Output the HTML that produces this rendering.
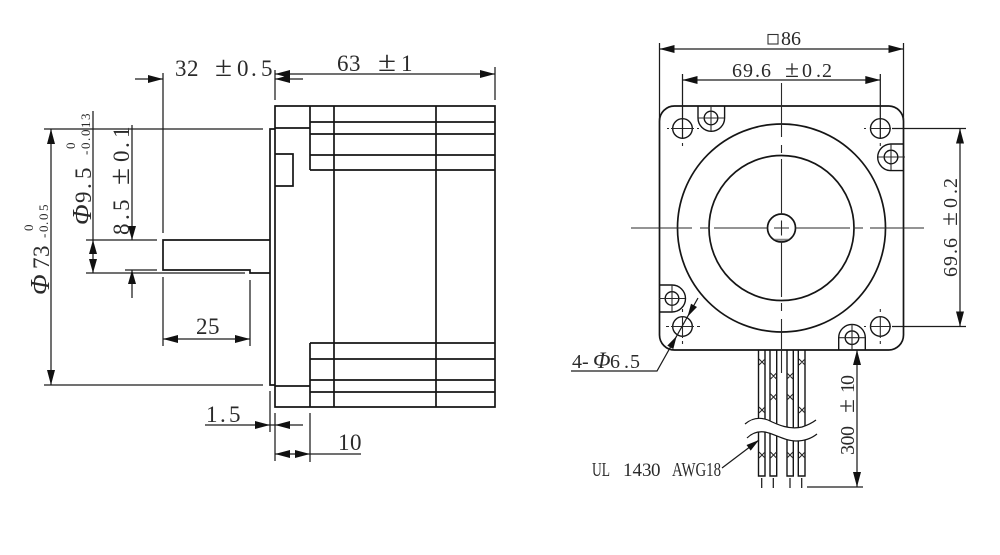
<!DOCTYPE html>
<html>
<head>
<meta charset="utf-8">
<style>
html,body{margin:0;padding:0;background:#fff;}
svg{display:block;}
text{font-family:"Liberation Serif","Noto Serif CJK SC",serif;fill:#2a2a2a;}
.b{stroke:#151515;stroke-width:1.7;fill:none;}
.d{stroke:#1c1c1c;stroke-width:1.25;fill:none;}
.c{stroke:#2a2a2a;stroke-width:1.1;fill:none;}
.i{font-style:italic;}
</style>
</head>
<body>
<svg width="1000" height="555" viewBox="0 0 1000 555" xmlns="http://www.w3.org/2000/svg">
<defs>
<path id="a" d="M0 0L-15 -4L-15 4Z" fill="#111"/>
<path id="s" d="M0 0L-14 -4L-14 4Z" fill="#111"/>
</defs>
<rect width="1000" height="555" fill="#fff"/>

<!-- LEFT VIEW: body -->
<path class="b" d="M275 106H495V407H275Z"/>
<path class="b" d="M310 106V170M334 106V343M436 106V343M310 122H495M310 134H495M310 155H495M310 170H495"/>
<path class="b" d="M310 407V343M334 343V407M436 343V407M310 343H495M310 359H495M310 380H495M310 392H495"/>
<path class="b" d="M275 128H310M275 386H310"/>
<path class="b" d="M275 129H270V385H275"/>
<path class="b" d="M275 154H293V186H275"/>
<path class="b" d="M270 240H163V270H250V273H270"/>

<!-- LEFT VIEW: dimensions -->
<path class="d" d="M163 73V233M163 277V346M275 70V100M495 67V100"/>
<path class="d" d="M135 79H163M275 74H495M275 79H303"/>
<use href="#a" transform="translate(163 79)"/>
<use href="#a" transform="translate(275 74) rotate(180)"/>
<use href="#a" transform="translate(275 79) rotate(180)"/>
<use href="#a" transform="translate(495 74)"/>

<path class="d" d="M44 129H263M44 385H263M51 129V385"/>
<use href="#a" transform="translate(51 129) rotate(-90)"/>
<use href="#a" transform="translate(51 385) rotate(90)"/>

<path class="d" d="M93 111V273M86 240H157M86 273H245M125 270H157M132 125V240M132 270V298"/>
<use href="#s" transform="translate(93 240) rotate(-90)"/>
<use href="#s" transform="translate(93 273) rotate(90)"/>
<use href="#s" transform="translate(132 240) rotate(90)"/>
<use href="#s" transform="translate(132 270) rotate(-90)"/>

<path class="d" d="M250 280V346M163 339H250"/>
<use href="#a" transform="translate(163 339) rotate(180)"/>
<use href="#a" transform="translate(250 339)"/>

<path class="d" d="M270 391V432M275 413V461M310 413V462M205 425H303M275 454H361"/>
<use href="#a" transform="translate(270 425)"/>
<use href="#a" transform="translate(275 425) rotate(180)"/>
<use href="#a" transform="translate(275 454) rotate(180)"/>
<use href="#a" transform="translate(310 454)"/>

<!-- LEFT VIEW: labels -->
<text x="175 187" y="76" font-size="23">32</text>
<text x="215" y="76" font-size="28" textLength="17" lengthAdjust="spacingAndGlyphs">±</text>
<text x="237 251 261" y="76" font-size="23">0.5</text>
<text x="337 349" y="71" font-size="23">63</text>
<text x="378" y="71" font-size="28" textLength="18" lengthAdjust="spacingAndGlyphs">±</text>
<text x="401" y="71" font-size="23">1</text>
<text x="196 208" y="334" font-size="23">25</text>
<text x="206 220 229" y="422" font-size="23">1.5</text>
<text x="338 350" y="450" font-size="23">10</text>

<text transform="translate(49 295) rotate(-90)" font-size="23" x="0 26 38"><tspan class="i" font-size="27">Φ</tspan>73</text>
<text transform="translate(33 231) rotate(-90)" font-size="13">0</text>
<text transform="translate(48 238) rotate(-90)" font-size="13" x="0 6 13 18 27">-0.05</text>
<text transform="translate(91 225) rotate(-90)" font-size="23" x="0 22 36 46"><tspan class="i" font-size="27">Φ</tspan>9.5</text>
<text transform="translate(75 149) rotate(-90)" font-size="13">0</text>
<text transform="translate(90 155) rotate(-90)" font-size="13" x="0 6 14 19 27 35">-0.013</text>
<text transform="translate(129 235) rotate(-90)" font-size="23" x="0 15 24">8.5</text>
<text transform="translate(129 185) rotate(-90)" font-size="28" textLength="17" lengthAdjust="spacingAndGlyphs">±</text>
<text transform="translate(129 162) rotate(-90)" font-size="23" x="0 14 24">0.1</text>

<!-- RIGHT VIEW: plate -->
<rect class="b" x="659.5" y="106" width="244" height="244" rx="15" ry="15"/>
<circle class="b" cx="781.5" cy="228" r="104"/>
<circle class="b" cx="781.5" cy="228" r="72.5"/>
<circle class="b" cx="781.5" cy="228" r="14"/>
<path d="M773 238.8Q781.5 243 790 238.8Z" fill="#888"/>
<path class="c" d="M774 228H789M781.5 220.5V235.5"/>

<!-- centre lines -->
<path class="c" d="M631 228H692M700 228H708M714 228H767.5M795.5 228H850M855 228H863M870 228H924"/>
<path class="c" d="M781.5 83V137M781.5 145V153M781.5 159V214M781.5 242V297M781.5 303V311M781.5 319V373"/>

<!-- mount holes -->
<g class="b" style="stroke-width:1.4">
<circle cx="682.5" cy="128.5" r="9.8" fill="#fff"/>
<circle cx="880.3" cy="128.5" r="9.8" fill="#fff"/>
<circle cx="682.5" cy="326.5" r="9.8" fill="#fff"/>
<circle cx="880.3" cy="326.5" r="9.8" fill="#fff"/>
</g>
<path class="c" d="M667 128.5H669M671 128.5H694M697 128.5H699M682.5 143V146"/>
<path class="c" d="M864 128.5H866M870 128.5H891M880.3 143V146"/>
<path class="c" d="M666 326.5H669M671 326.5H694M697 326.5H700M682.5 309V312M682.5 316V338M682.5 341V344"/>
<path class="c" d="M864 326.5H866M870 326.5H891M880.3 309V312M880.3 316V338M880.3 341V344"/>

<!-- screw pockets -->
<g class="b" style="stroke-width:1.4">
<path d="M698 106V118A13.3 13.3 0 0 0 724.6 118V106"/>
<path d="M904 144H891A13.3 13.3 0 0 0 891 170.6H904"/>
<path d="M838.7 350V337.7A13.3 13.3 0 0 1 865.3 337.7V350"/>
<path d="M659 285H672A13.5 13.5 0 0 1 672 312H659"/>
<circle cx="711" cy="118" r="6.8"/>
<circle cx="891" cy="157" r="6.8"/>
<circle cx="852" cy="337.7" r="6.8"/>
<circle cx="672" cy="298.5" r="6.8"/>
</g>
<path class="c" d="M698 118H724M711 106V131M878 157H905M891 144V170M839 337.7H865M852 324V350M659 298.5H685M672 285V312"/>

<!-- wires -->
<path class="b" style="stroke-width:1.4" d="M758.5 350V476H765V350M770 350V476H776.7V350M787 350V476H793.3V350M798.3 350V476H805V350"/>
<path class="d" d="M761.7 478V488M773.3 478V488M790 478V488M801.7 478V488"/>
<path class="c" d="M759 359L765 365M765 359L759 365M759 407L765 413M765 407L759 413M759 452L765 458M765 452L759 458
M770.5 373L776.5 379M776.5 373L770.5 379M770.5 394L776.5 400M776.5 394L770.5 400M770.5 452L776.5 458M776.5 452L770.5 458
M787 373L793 379M793 373L787 379M787 394L793 400M793 394L787 400M787 452L793 458M793 452L787 458
M799 359L805 365M805 359L799 365M799 407L805 413M805 407L799 413M799 452L805 458M805 452L799 458"/>
<!-- wire break -->
<path d="M745 424C752 418 760 417 768 420C778 425 790 430 802 427C808 425 812 423 816 420L817 434C812 438 806 441 796 441C785 441 775 434 765 432C758 431 752 433 747 438Z" fill="#fff"/>
<path class="b" style="stroke-width:1.2" d="M745 424C752 418 760 417 768 420C778 425 790 430 802 427C808 425 812 423 816 420"/>
<path class="b" style="stroke-width:1.2" d="M747 438C752 433 758 431 765 432C775 434 785 441 796 441C806 441 812 438 817 434"/>

<!-- RIGHT VIEW: dimensions -->
<path class="d" d="M659.5 43V120M903.5 43V120M659.5 49H903.5"/>
<use href="#a" transform="translate(659.5 49) rotate(180)"/>
<use href="#a" transform="translate(903.5 49)"/>
<path class="d" d="M682.5 74V139M880.3 74V139M682.5 80H880.3"/>
<use href="#a" transform="translate(682.5 80) rotate(180)"/>
<use href="#a" transform="translate(880.3 80)"/>
<path class="d" d="M892 128.5H966M892 326.5H966M960 128.5V326.5"/>
<use href="#a" transform="translate(960 128.5) rotate(-90)"/>
<use href="#a" transform="translate(960 326.5) rotate(90)"/>
<path class="d" d="M857 350V487M807 487H863"/>
<use href="#a" transform="translate(857 350) rotate(-90)"/>
<use href="#a" transform="translate(857 487) rotate(90)"/>

<!-- 4-Φ6.5 leader -->
<path class="d" d="M571 371H657L698 298"/>
<path d="M676.7 336L673.3 349L667.3 345.6Z" fill="#111"/>
<path d="M687.5 316.7L697 307L691 303.7Z" fill="#111"/>
<!-- UL leader -->
<path class="d" d="M722 468L759 440"/>
<path d="M759 440L750.7 450.6L746.5 445Z" fill="#111"/>

<!-- RIGHT VIEW: labels -->
<rect x="768" y="34.5" width="10" height="9.5" fill="none" stroke="#333" stroke-width="1.1"/>
<text x="781 791" y="45" font-size="20">86</text>
<text x="732 743 755 761" y="77" font-size="20">69.6</text>
<text x="785" y="77" font-size="24" textLength="14" lengthAdjust="spacingAndGlyphs">±</text>
<text x="802 816 822" y="77" font-size="20">0.2</text>
<text transform="translate(957 277) rotate(-90)" font-size="20" x="0 11 23 29">69.6</text>
<text transform="translate(957 226) rotate(-90)" font-size="24" textLength="14" lengthAdjust="spacingAndGlyphs">±</text>
<text transform="translate(957 208) rotate(-90)" font-size="20" x="0 14 20">0.2</text>
<text x="572 582 593 610 624 630" y="368" font-size="20">4-<tspan class="i" font-size="23">Φ</tspan>6.5</text>
<text transform="translate(854 455) rotate(-90)" font-size="20" x="0 9.5 19">300</text>
<text transform="translate(854 413) rotate(-90)" font-size="24" textLength="14" lengthAdjust="spacingAndGlyphs">±</text>
<text transform="translate(854 393) rotate(-90)" font-size="20" x="0 8">10</text>
<text x="592" y="476" font-size="20" textLength="18" lengthAdjust="spacingAndGlyphs">UL</text>
<text x="623 632.5 642 651" y="476" font-size="19">1430</text>
<text x="672" y="476" font-size="20" textLength="49" lengthAdjust="spacingAndGlyphs">AWG18</text>
</svg>
</body>
</html>
